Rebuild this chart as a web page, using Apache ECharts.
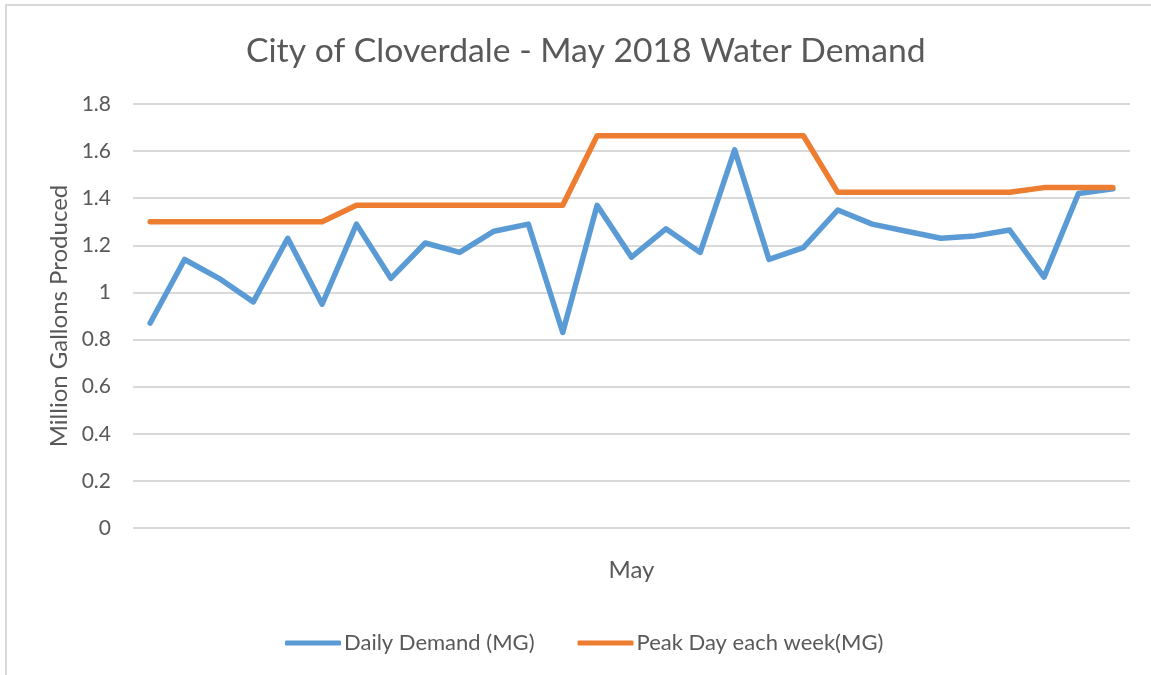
<!DOCTYPE html>
<html>
<head>
<meta charset="utf-8">
<script src="https://cdn.jsdelivr.net/npm/echarts@6/dist/echarts.min.js"></script>
<style>
  html, body { margin: 0; padding: 0; background: #fff; }
  #chart { width: 1151px; height: 675px; }
</style>
</head>
<body>
<div id="chart"></div>
<script>
// days plotted (29 points in the source sheet)
const days = ['1', '2', '3', '4', '5', '6', '7', '8', '9', '10', '11', '12', '13', '14', '15',
  '16', '17', '18', '19', '20', '21', '22', '23', '24', '25', '26', '27', '28', '29']

const dailyDemand = [0.87, 1.14, 1.06, 0.96, 1.23, 0.95, 1.29, 1.06, 1.21, 1.17,
  1.26, 1.29, 0.83, 1.37, 1.15, 1.27, 1.17, 1.605, 1.14, 1.19,
  1.35, 1.29, 1.26, 1.23, 1.24, 1.265, 1.065, 1.42, 1.44]

const peakDay = [1.30, 1.30, 1.30, 1.30, 1.30, 1.30, 1.37, 1.37, 1.37, 1.37,
  1.37, 1.37, 1.37, 1.665, 1.665, 1.665, 1.665, 1.665, 1.665, 1.665,
  1.425, 1.425, 1.425, 1.425, 1.425, 1.425, 1.445, 1.445, 1.445]

const seriesNames = ['Daily Demand (MG)', 'Peak Day each week(MG)']

const font = 'Lato'
const textColor = '#595959'

const chart = echarts.init(document.getElementById('chart'))

chart.setOption({
  animation: false,
  backgroundColor: '#fff',
  graphic: [{
    type: 'rect',
    shape: { x: 6, y: 5, width: 1300, height: 800 },
    style: { fill: 'none', stroke: '#d9d9d9', lineWidth: 2 },
    silent: true
  }],
  title: {
    text: 'City of Cloverdale - May 2018 Water Demand',
    left: 241,
    top: 29,
    textStyle: {
      fontFamily: font,
      fontWeight: 'normal',
      fontSize: 33.7,
      color: textColor
    }
  },
  legend: {
    data: seriesNames,
    left: 280,
    top: 627,
    icon: 'roundRect',
    itemWidth: 56,
    itemHeight: 5,
    itemGap: 43,
    textStyle: {
      fontFamily: font,
      fontSize: 22,
      color: textColor,
      padding: [0, 0, 0, -2]
    }
  },
  grid: {
    left: 133,
    right: 21,
    top: 104,
    bottom: 147
  },
  xAxis: {
    type: 'category',
    data: days,
    name: 'May',
    nameLocation: 'middle',
    nameGap: 30,
    nameTextStyle: {
      fontFamily: font,
      fontSize: 24,
      color: textColor
    },
    axisLine: { show: false },
    axisTick: { show: false },
    axisLabel: { show: false }
  },
  yAxis: {
    type: 'value',
    min: 0,
    max: 1.8,
    interval: 0.2,
    name: 'Million Gallons Produced',
    nameLocation: 'middle',
    nameGap: 62,
    nameTextStyle: {
      fontFamily: font,
      fontSize: 24,
      color: textColor
    },
    axisLabel: {
      margin: 22,
      fontFamily: font,
      fontSize: 21,
      color: textColor,
      formatter: v => String(Math.round(v * 10) / 10)
    },
    splitLine: {
      lineStyle: { color: '#d9d9d9', width: 2 }
    }
  },
  series: [
    {
      name: seriesNames[0],
      type: 'line',
      data: dailyDemand,
      showSymbol: false,
      symbol: 'none',
      color: '#5b9bd5',
      lineStyle: { color: '#5b9bd5', width: 5.5, cap: 'round', join: 'round' }
    },
    {
      name: seriesNames[1],
      type: 'line',
      data: peakDay,
      showSymbol: false,
      symbol: 'none',
      color: '#ed7d31',
      lineStyle: { color: '#ed7d31', width: 5.5, cap: 'round', join: 'round' }
    }
  ]
})
</script>
</body>
</html>
